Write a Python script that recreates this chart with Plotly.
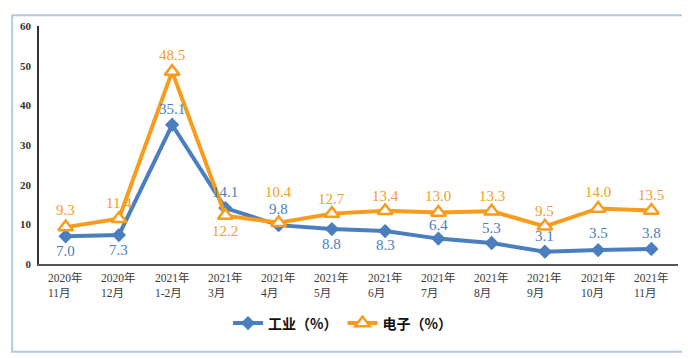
import plotly.graph_objects as go

categories = ["2020年<br>11月", "2020年<br>12月", "2021年<br>1-2月", "2021年<br>3月", "2021年<br>4月",
              "2021年<br>5月", "2021年<br>6月", "2021年<br>7月", "2021年<br>8月", "2021年<br>9月",
              "2021年<br>10月", "2021年<br>11月"]
industry = [7.0, 7.3, 35.1, 14.1, 9.8, 8.8, 8.3, 6.4, 5.3, 3.1, 3.5, 3.8]
electronics = [9.3, 11.4, 48.5, 12.2, 10.4, 12.7, 13.4, 13.0, 13.3, 9.5, 14.0, 13.5]
y_ticks = [0, 10, 20, 30, 40, 50, 60]

# label pixel offsets (style)
ind_shift = [-15, -15, 16, 16, 16, -15, -14, 14, 15, 16, 17, 16]
ele_shift = [17, 16, 17, -15, 31, 15, 15, 16, 15, 15, 16, 15]

BLUE = "#4a7ebf"
ORANGE = "#f99b1c"
x = list(range(len(categories)))

fig = go.Figure()
fig.add_trace(go.Scatter(
    x=x, y=industry, name="工业（%）", mode="lines+markers",
    line=dict(color=BLUE, width=4),
    marker=dict(symbol="diamond", size=11, color=BLUE),
))
fig.add_trace(go.Scatter(
    x=x, y=electronics, name="电子（%）", mode="lines+markers",
    line=dict(color=ORANGE, width=4),
    marker=dict(symbol="triangle-up", size=13, color="white", line=dict(color=ORANGE, width=2.5)),
))

annotations = []
lab_font = "Liberation Serif, Times New Roman, serif"
for i in x:
    annotations.append(dict(x=i, y=industry[i], xref="x", yref="y", text=f"{industry[i]:.1f}",
                            showarrow=False, yshift=ind_shift[i],
                            font=dict(family=lab_font, size=15, color=BLUE)))
    annotations.append(dict(x=i, y=electronics[i], xref="x", yref="y", text=f"{electronics[i]:.1f}",
                            showarrow=False, yshift=ele_shift[i],
                            font=dict(family=lab_font, size=15, color=ORANGE)))
    annotations.append(dict(x=i, y=0, xref="x", yref="y", text=categories[i], align="left",
                            showarrow=False, yanchor="top", yshift=-5,
                            font=dict(family="Liberation Serif, Noto Sans CJK SC, serif", size=11.5, color="#3a3a3a")))

fig.update_layout(
    width=682, height=351,
    margin=dict(l=29, r=12, t=12, b=95),
    paper_bgcolor="white", plot_bgcolor="white",
    showlegend=True,
    legend=dict(orientation="h", x=0.475, xanchor="center", y=-0.25, yanchor="middle",
                font=dict(family="Noto Sans CJK SC, sans-serif", size=14, color="#111111", weight=600),
                itemwidth=30, bgcolor="rgba(0,0,0,0)"),
    annotations=annotations,
    shapes=[dict(type="rect", xref="paper", yref="paper", x0=-0.042, x1=1.0078, y0=-0.369, y1=1.045,
                 line=dict(color="#b4c8e4", width=2), layer="below")],
)
fig.update_xaxes(range=[-0.5, 11.5], showticklabels=False, showgrid=False, zeroline=False,
                 showline=True, linecolor="#555555", linewidth=1.5, ticks="")
fig.update_yaxes(range=[0, 60], tickvals=y_ticks, showgrid=False, zeroline=False,
                 showline=True, linecolor="#333333", linewidth=1.5, ticks="",
                 tickfont=dict(family="Liberation Serif, serif", size=11, color="#333333", weight="bold"),
                 ticklabelstandoff=4)

fig.write_html("out.html")
